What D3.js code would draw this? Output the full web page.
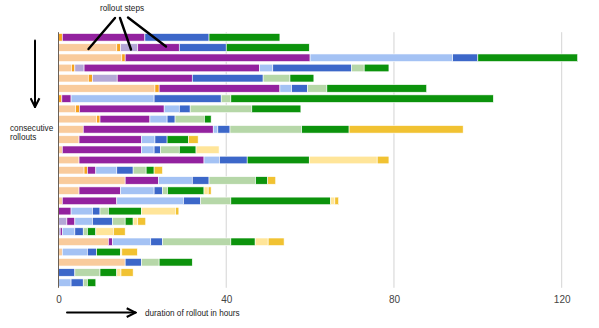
<!DOCTYPE html>
<html>
<head>
<meta charset="utf-8">
<script src="https://cdn.jsdelivr.net/npm/d3@7"></script>
<style>
  html, body { margin: 0; padding: 0; background: #fff; }
  svg { display: block; font-family: Arial, "Liberation Sans", sans-serif; }
  .note { font-size: 8.2px; fill: #222; }
  .tick text { font-size: 10px; fill: #444; }
</style>
</head>
<body>
<div id="chart"></div>
<script>
// rollout steps, in the order they run (left to right in each bar)
var steps = ["prep", "canary", "canary_soak", "zone1", "region1", "region2",
             "global_soak", "global", "cleanup", "verify"];
var stepColors = ["#f9cb9c", "#f6a21e", "#b4a7d6", "#93229f", "#a4c2f4", "#3c67c9",
                  "#b6d7a8", "#0c930c", "#ffe599", "#f1c232"];

// hours spent in each step, one row per rollout (oldest at the top)
var durations = [
  [0,    0.9, 0,   19.7, 0,    15.3, 0,    16.9, 0,    0   ],
  [13.9, 0.9, 4.1, 9.9,  0,    11.2, 0,    19.8, 0,    0   ],
  [15.1, 0.8, 0,   44.1, 34.0, 6.0,  0,    23.8, 0,    0   ],
  [3.1,  0.8, 2.2, 41.8, 3.2,  18.8, 3.0,  5.9,  0,    0   ],
  [7.1,  1.0, 5.9, 17.9, 0,    16.9, 6.4,  5.7,  0,    0   ],
  [23.0, 1.0, 0,   28.8, 2.8,  3.8,  4.6,  23.8, 0,    0   ],
  [0,    0.8, 0,   2.2,  19.8, 16.0, 2.3,  62.6, 0,    0   ],
  [4.1,  0.9, 0,   20.2, 3.6,  2.6,  14.7, 11.7, 0,    0   ],
  [9.1,  0.8, 0,   11.9, 4.1,  1.9,  7.0,  1.6,  0,    0   ],
  [5.9,  0,   0,   31.0, 1.1,  2.9,  17.1, 11.3, 0,    27.2],
  [4.9,  0,   0,   14.9, 3.2,  2.9,  0,    5.1,  0,    2.3 ],
  [0.9,  0,   0,   18.9, 3.0,  1.5,  4.5,  4.0,  5.5,  0   ],
  [4.9,  0,   0,   29.8, 3.7,  6.6,  0,    14.8, 16.2, 2.8 ],
  [6.1,  0.8, 0,   2.0,  5.0,  3.9,  3.1,  1.9,  0,    2.0 ],
  [15.9, 0,   0,   7.9,  8.1,  4.0,  11.1, 2.9,  0,    1.9 ],
  [4.9,  0,   0,   9.9,  8.0,  2.0,  1.2,  8.7,  1.0,  0.7 ],
  [0.9,  0,   0,   13.0, 15.9, 4.1,  7.2,  23.8, 1.0,  0.9 ],
  [0,    0,   0,   3.0,  5.1,  1.8,  2.0,  7.9,  8.1,  0.8 ],
  [0,    0,   2.0, 1.9,  4.2,  4.8,  3.0,  1.9,  1.1,  1.9 ],
  [0,    0,   0.4, 0.5,  3.0,  2.0,  1.0,  2.0,  4.2,  2.8 ],
  [11.9, 0,   0,   1.0,  9.1,  2.8,  16.3, 5.8,  3.1,  3.8 ],
  [0.9,  0,   0,   0,    6.0,  2.2,  0,    5.7,  0.3,  3.7 ],
  [15.9, 0,   0,   0,    0,    3.9,  4.2,  7.9,  0,    0   ],
  [0,    0,   0,   0,    0,    3.9,  6.0,  4.0,  1.0,  2.9 ],
  [0,    0,   0,   0,    3.0,  2.9,  1.0,  2.0,  0,    0   ]
];
var xTicks = [0, 40, 80, 120];

var W = 599, H = 328;
var plot = {left: 58.5, right: 561.7, top: 32.2, bottom: 287.8};

var svg = d3.select("#chart").append("svg")
    .attr("width", W).attr("height", H);

// open chevron used on the hand-drawn arrows
var defs = svg.append("defs");
defs.append("marker")
    .attr("id", "head")
    .attr("viewBox", "0 0 10 10")
    .attr("refX", 9).attr("refY", 5)
    .attr("markerWidth", 11).attr("markerHeight", 11)
    .attr("markerUnits", "userSpaceOnUse")
    .attr("orient", "auto")
  .append("path")
    .attr("d", "M1,1 L9,5 L1,9")
    .attr("fill", "none")
    .attr("stroke", "#000")
    .attr("stroke-width", 1.9);

var xScale = d3.scaleLinear().domain([0, 120]).range([plot.left, plot.right]);
var yScale = d3.scaleBand()
    .domain(d3.range(durations.length))
    .range([plot.top, plot.bottom])
    .paddingInner(0.26)
    .paddingOuter(0.13);

// rows as objects so d3.stack can stack the steps
var rows = durations.map(function(r, i) {
    var o = {idx: i};
    steps.forEach(function(s, j) { o[s] = r[j]; });
    return o;
});
var series = d3.stack().keys(steps)(rows);

// vertical grid lines
svg.append("g")
   .selectAll("line")
   .data(xTicks.slice(1))
   .enter().append("line")
   .attr("x1", function(d) { return xScale(d); })
   .attr("x2", function(d) { return xScale(d); })
   .attr("y1", plot.top)
   .attr("y2", plot.bottom)
   .attr("stroke", "#d4d4d4")
   .attr("stroke-width", 1);

svg.append("g")
   .selectAll("g")
   .data(series)
   .enter().append("g")
   .attr("fill", function(s, i) { return stepColors[i]; })
   .selectAll("rect")
   .data(function(s) { return s.filter(function(d) { return d[1] - d[0] > 0; }); })
   .enter().append("rect")
   .attr("x", function(d) { return xScale(d[0]); })
   .attr("width", function(d) { return xScale(d[1]) - xScale(d[0]); })
   .attr("y", function(d) { return yScale(d.data.idx); })
   .attr("height", yScale.bandwidth())
   .attr("stroke", "#fff")
   .attr("stroke-width", 0.6);

// baseline at zero
svg.append("line")
   .attr("x1", xScale(0)).attr("x2", xScale(0))
   .attr("y1", plot.top).attr("y2", plot.bottom)
   .attr("stroke", "#6b5f55")
   .attr("stroke-width", 1);

var xAxis = d3.axisBottom(xScale).tickValues(xTicks).tickSize(0).tickPadding(0);
var gx = svg.append("g")
   .attr("transform", "translate(0," + 296 + ")")
   .call(xAxis);
gx.select(".domain").remove();
gx.selectAll("text").attr("dy", "0.71em").attr("fill", "#444");

// hand-drawn annotations
var notes = svg.append("g").attr("stroke", "#000").attr("stroke-width", 2.4)
   .attr("stroke-linecap", "round");
[[115, 18, 88.5, 49], [120, 18, 131, 49.5], [128, 17.5, 166, 46.5]].forEach(function(l) {
    notes.append("line")
         .attr("x1", l[0]).attr("y1", l[1]).attr("x2", l[2]).attr("y2", l[3]);
});
notes.append("line")
     .attr("x1", 35).attr("y1", 40.5).attr("x2", 35).attr("y2", 107)
     .attr("stroke-width", 2)
     .attr("marker-end", "url(#head)");
notes.append("line")
     .attr("x1", 67).attr("y1", 312.6).attr("x2", 135.5).attr("y2", 312.6)
     .attr("stroke-width", 2)
     .attr("marker-end", "url(#head)");

svg.append("text").attr("class", "note")
   .attr("x", 122).attr("y", 10.5).attr("text-anchor", "middle")
   .text("rollout steps");
svg.append("text").attr("class", "note")
   .attr("x", 10).attr("y", 130.5).text("consecutive");
svg.append("text").attr("class", "note")
   .attr("x", 10).attr("y", 140).text("rollouts");
svg.append("text").attr("class", "note")
   .attr("x", 145).attr("y", 315.5).text("duration of rollout in hours");
</script>
</body>
</html>
